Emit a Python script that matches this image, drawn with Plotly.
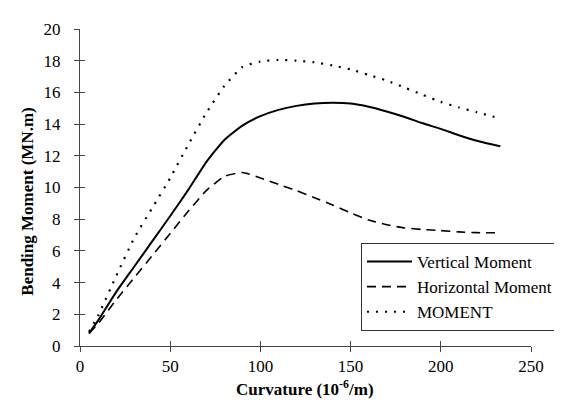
import plotly.graph_objects as go

curvature = [5, 10, 20, 30, 40, 50, 60, 70, 80, 90, 100, 110, 120, 130, 140,
             150, 160, 170, 180, 190, 200, 210, 220, 233]
vertical = [0.8, 1.6, 3.4, 5.0, 6.6, 8.2, 9.85, 11.6, 13.0, 13.9, 14.5, 14.9,
            15.15, 15.3, 15.35, 15.3, 15.1, 14.8, 14.45, 14.05, 13.7, 13.3,
            12.95, 12.6]
horizontal = [0.8, 1.4, 2.9, 4.3, 5.7, 7.1, 8.5, 9.8, 10.7, 10.95, 10.6, 10.2,
              9.8, 9.35, 8.9, 8.4, 7.95, 7.65, 7.45, 7.35, 7.28, 7.2, 7.15, 7.15]
moment = [0.9, 1.9, 4.4, 6.8, 8.7, 10.6, 12.7, 14.7, 16.4, 17.6, 17.95, 18.05,
          18.0, 17.9, 17.7, 17.45, 17.1, 16.75, 16.3, 15.85, 15.4, 15.05,
          14.75, 14.35]

x_ticks = [0, 50, 100, 150, 200, 250]
y_ticks = [0, 2, 4, 6, 8, 10, 12, 14, 16, 18, 20]

FONT = "Liberation Serif, Times New Roman, serif"
AX = "#444444"

fig = go.Figure()
fig.add_trace(go.Scatter(x=curvature, y=vertical, mode="lines",
                         name="Vertical Moment",
                         line=dict(color="black", width=2, shape="spline", smoothing=0.5)))
fig.add_trace(go.Scatter(x=curvature, y=horizontal, mode="lines",
                         name="Horizontal Moment",
                         line=dict(color="black", width=1.6, dash="9px,6px", shape="spline", smoothing=0.5)))
fig.add_trace(go.Scatter(x=curvature, y=moment, mode="lines",
                         name="MOMENT",
                         line=dict(color="black", width=2.2, dash="2px,7px", shape="spline", smoothing=0.5)))
# invisible trace for the overlay axes (inside half of cross ticks)
fig.add_trace(go.Scatter(x=[curvature[0]], y=[vertical[0]], xaxis="x2", yaxis="y2",
                         mode="markers", marker=dict(opacity=0), showlegend=False,
                         hoverinfo="skip"))

common = dict(showgrid=False, zeroline=False, tickfont=dict(family=FONT, size=17, color="black"))
fig.update_layout(
    width=562, height=404,
    margin=dict(l=72, r=23, t=17, b=66),
    paper_bgcolor="white", plot_bgcolor="white",
    font=dict(family=FONT, color="black"),
    xaxis=dict(range=[0, 250], tickvals=x_ticks, ticks="outside", ticklen=5,
               tickcolor=AX, showline=True, linecolor=AX, linewidth=1,
               ticklabelstandoff=0, **common),
    yaxis=dict(range=[0, 20], tickvals=y_ticks, ticks="outside", ticklen=5,
               tickcolor=AX, showline=True, linecolor=AX, linewidth=1,
               ticklabelstandoff=10, **common),
    xaxis2=dict(range=[0, 250], tickvals=x_ticks, ticks="inside", ticklen=5,
                tickcolor=AX, overlaying="x", showticklabels=False,
                showline=False, showgrid=False, zeroline=False),
    yaxis2=dict(range=[0, 20], tickvals=y_ticks, ticks="inside", ticklen=5,
                tickcolor=AX, overlaying="y", showticklabels=False,
                showline=False, showgrid=False, zeroline=False),
    legend=dict(x=0.623, y=0.325, xanchor="left", yanchor="top",
                bgcolor="white", bordercolor="#333333", borderwidth=1,
                font=dict(family=FONT, size=17, color="black"),
                tracegroupgap=0, itemwidth=45),
    showlegend=True,
    annotations=[
        dict(text="<b>Curvature (10<sup>-6</sup>/m)</b>", x=0.5, y=0,
             xref="paper", yref="paper", showarrow=False,
             xanchor="center", yanchor="middle",
             font=dict(family=FONT, size=17, color="black")),
        dict(text="<b>Bending Moment (MN.m)</b>", x=0, y=0, textangle=-90,
             xref="paper", yref="paper", showarrow=False,
             xanchor="center", yanchor="middle",
             font=dict(family=FONT, size=17, color="black")),
    ],
)

pw = 562 - 72 - 23
ph = 404 - 17 - 66
fig.layout.annotations[0].x = (305 - 72) / pw
fig.layout.annotations[0].y = (338 - 381) / ph
fig.layout.annotations[1].x = (18 - 72) / pw
fig.layout.annotations[1].y = (338 - 192) / ph

fig.write_html("out.html")
